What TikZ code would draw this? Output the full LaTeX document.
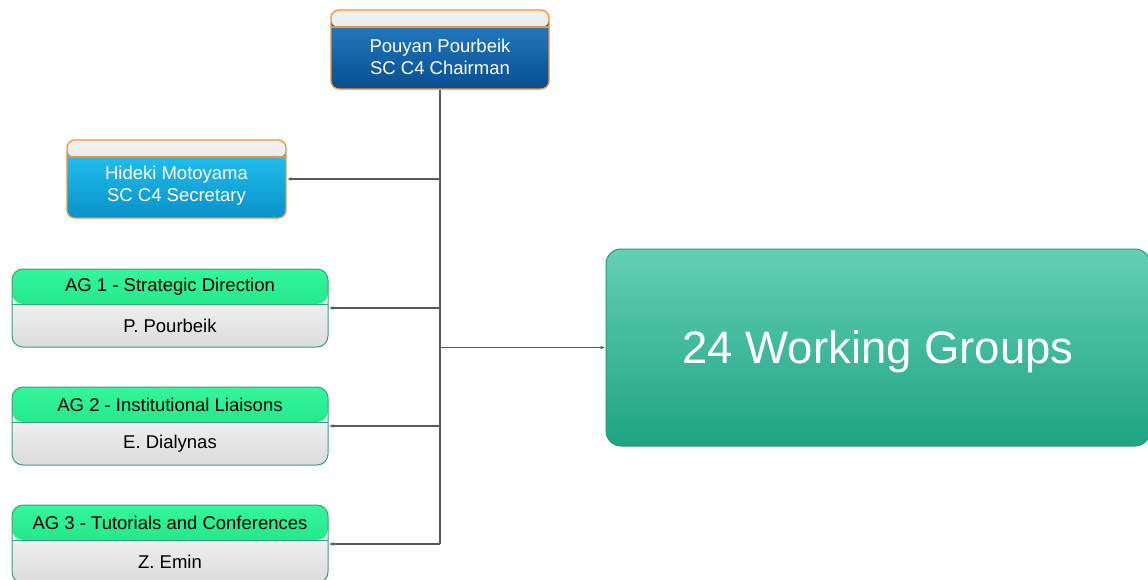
\documentclass[tikz,border=0pt]{standalone}
\usepackage{fontspec}
\setmainfont{Liberation Sans}
\usetikzlibrary{arrows.meta}
\definecolor{orangeb}{HTML}{F0923A}
\definecolor{tealb}{HTML}{3A9C80}
\definecolor{wgb}{HTML}{2A9A7A}
\definecolor{conn}{HTML}{5A5A5A}
\tikzset{
  x=1pt,y=-1pt,
  personbox/.style={draw=orangeb, line width=1.3pt, rounded corners=8pt, inner sep=0pt},
  agbox/.style={draw=tealb, line width=1pt, rounded corners=11pt, inner sep=0pt,
     top color=white, bottom color=black!14, minimum width=316, minimum height=78},
  hdrgray/.style={path picture={
     \shade[top color=black!5, bottom color=black!18] (path picture bounding box.north west) rectangle ([yshift=-17pt]path picture bounding box.north east);
     \draw[orangeb, line width=1.3pt] ([yshift=-17pt]path picture bounding box.north west) -- ([yshift=-17pt]path picture bounding box.north east);}},
  hdrgreen/.style={path picture={
     \shade[top color={rgb,255:red,52;green,247;blue,156}, bottom color={rgb,255:red,16;green,214;blue,116}] (path picture bounding box.north west) rectangle ([yshift=-35pt]path picture bounding box.north east);
     \draw[tealb, line width=1pt] ([yshift=-35pt]path picture bounding box.north west) -- ([yshift=-35pt]path picture bounding box.north east);}},
  wtxt/.style={text=white, font=\fontsize{18.5}{22}\selectfont, align=center, inner sep=0pt},
  btxt/.style={text=black, font=\fontsize{18.5}{22}\selectfont, align=center, inner sep=0pt},
  conn/.style={draw=conn, line width=1.1pt},
  arr/.style={conn, -{Latex[length=5pt,width=3.5pt]}},
}
\begin{document}
\begin{tikzpicture}
\useasboundingbox[fill=white] (0,0) rectangle (1148,579);
% chairman
\node[personbox, hdrgray, minimum width=218, minimum height=79,
  top color={rgb,255:red,40;green,130;blue,200}, bottom color={rgb,255:red,8;green,78;blue,145}] (chair) at (440,49.5) {};
\node[wtxt] (chairt) at (440,56.5) {Pouyan Pourbeik\\SC C4 Chairman};
% secretary
\node[personbox, hdrgray, minimum width=219, minimum height=78,
  top color={rgb,255:red,40;green,200;blue,248}, bottom color={rgb,255:red,8;green,145;blue,200}] (sec) at (176.5,179) {};
\node[wtxt] (sect) at (176.5,185.5) {Hideki Motoyama\\SC C4 Secretary};
% AG boxes
\node[agbox, hdrgreen] (ag1) at (170,308) {};
\node[btxt] (ag1h) at (170,286.5) {AG 1 - Strategic Direction};
\node[btxt] (ag1b) at (170,325.5) {P. Pourbeik};
\node[agbox, hdrgreen] (ag2) at (170,426) {};
\node[btxt] (ag2h) at (170,404.5) {AG 2 - Institutional Liaisons};
\node[btxt] (ag2b) at (170,443.5) {E. Dialynas};
\node[agbox, hdrgreen] (ag3) at (170,544) {};
\node[btxt] (ag3h) at (170,522.5) {AG 3 - Tutorials and Conferences};
\node[btxt] (ag3b) at (170,561.5) {Z. Emin};
% working groups
\node[draw=wgb, line width=1pt, rounded corners=15pt, minimum width=544, minimum height=197,
  top color={rgb,255:red,99;green,208;blue,181}, bottom color={rgb,255:red,30;green,163;blue,131}] (wg) at (878,347.5) {};
\node[text=white, font=\fontsize{45.5}{50}\selectfont, inner sep=0pt] (wgt) at (878,352) {24 Working Groups};
% connectors
\coordinate (tsec) at (440,179);
\coordinate (tag1) at (440,308);
\coordinate (twg) at (440,347.5);
\coordinate (tag2) at (440,426);
\coordinate (tag3) at (440,544);
\draw[conn] (chair.south) -- (tag3);
\draw[arr] (tsec) -- (sec.east);
\draw[arr] (tag1) -- (ag1.east);
\draw[arr] (tag2) -- (ag2.east);
\draw[arr] (tag3) -- (ag3.east);
\draw[arr] (twg) -- (wg.west);
\end{tikzpicture}
\end{document}
